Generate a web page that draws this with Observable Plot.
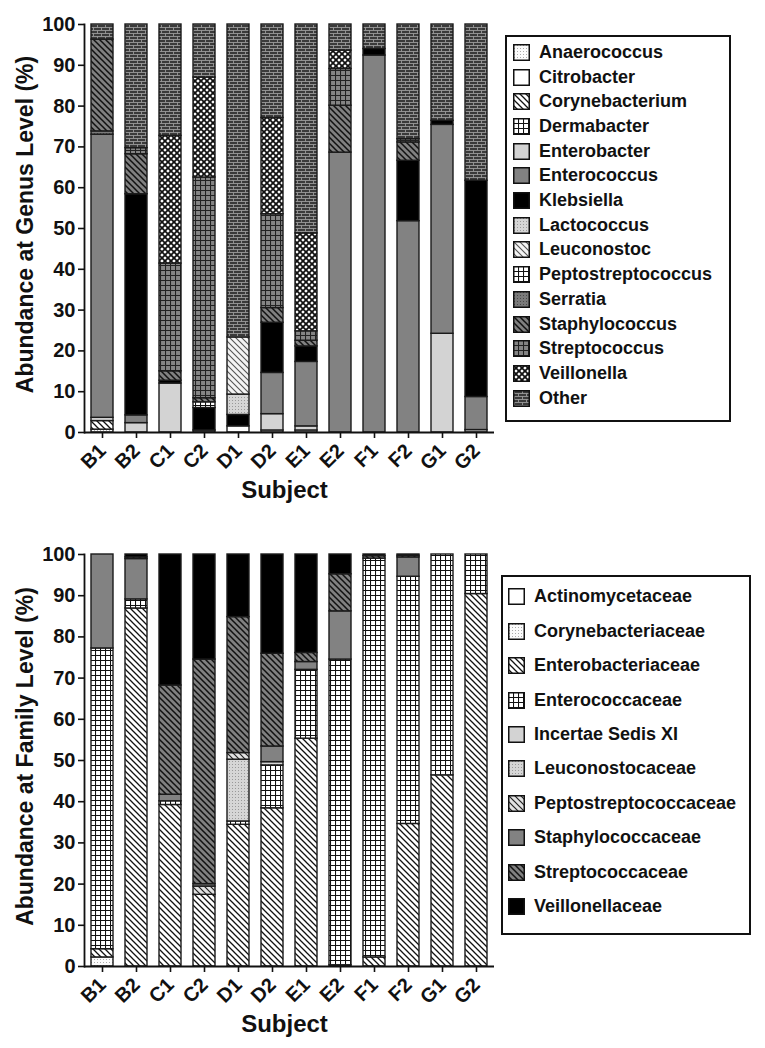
<!DOCTYPE html>
<html><head><meta charset="utf-8">
<script src="https://cdn.jsdelivr.net/npm/d3@7"></script>
<script src="https://cdn.jsdelivr.net/npm/@observablehq/plot@0.6"></script>
<style>
body{margin:0;background:#fff;font-family:"Liberation Sans",Arial,sans-serif;}
#wrap{position:relative;width:765px;height:1048px;overflow:hidden;background:#fff;}
.panel{position:absolute;left:0;}
.legend{position:absolute;border:2px solid #111;background:#fff;box-sizing:border-box;}
.item{position:absolute;height:20px;display:flex;align-items:center;font-weight:bold;font-size:18px;color:#111;white-space:nowrap;}
.item svg{margin-right:9px;flex:none;}
</style></head><body>
<svg width="0" height="0" style="position:absolute;left:0;top:0"><defs>
<pattern id="p-dots" width="3" height="3" patternUnits="userSpaceOnUse"><rect width="3" height="3" fill="#fbfbfb"/><rect x="1" y="1" width="1" height="1" fill="#aaa"/></pattern>
<pattern id="p-ltdots" width="3" height="3" patternUnits="userSpaceOnUse"><rect width="3" height="3" fill="#d6d6d6"/><rect x="1" y="1" width="1" height="1" fill="#999"/></pattern>
<pattern id="p-dkdots" width="3" height="3" patternUnits="userSpaceOnUse"><rect width="3" height="3" fill="#7a7a7a"/><rect x="1" y="1" width="1" height="1" fill="#4a4a4a"/></pattern>
<pattern id="p-diagW" width="6" height="6" patternUnits="userSpaceOnUse"><rect width="6" height="6" fill="#fff"/><path d="M-1,-1L7,7M-1,5L1,7M5,-1L7,1" stroke="#111" stroke-width="1.3"/></pattern>
<pattern id="p-diagL" width="6" height="6" patternUnits="userSpaceOnUse"><rect width="6" height="6" fill="#f4f4f4"/><path d="M-1,-1L7,7M-1,5L1,7M5,-1L7,1" stroke="#555" stroke-width="1.1"/></pattern>
<pattern id="p-diagP" width="6" height="6" patternUnits="userSpaceOnUse"><rect width="6" height="6" fill="#e2e2e2"/><path d="M-1,-1L7,7M-1,5L1,7M5,-1L7,1" stroke="#222" stroke-width="1.2"/></pattern>
<pattern id="p-diagG" width="6" height="6" patternUnits="userSpaceOnUse"><rect width="6" height="6" fill="#808080"/><path d="M-1,-1L7,7M-1,5L1,7M5,-1L7,1" stroke="#111" stroke-width="1.5"/></pattern>
<pattern id="p-gridW" width="5" height="5" patternUnits="userSpaceOnUse"><rect width="5" height="5" fill="#fff"/><path d="M0,0.5H5M0.5,0V5" stroke="#111" stroke-width="1.1"/></pattern>
<pattern id="p-gridG" width="5" height="5" patternUnits="userSpaceOnUse"><rect width="5" height="5" fill="#858585"/><path d="M0,0.5H5M0.5,0V5" stroke="#222" stroke-width="1.1"/></pattern>
<pattern id="p-cross" width="6" height="6" patternUnits="userSpaceOnUse"><rect width="6" height="6" fill="#fff"/><path d="M0,0L6,6M6,0L0,6" stroke="#111" stroke-width="1.8"/></pattern>
<pattern id="p-brick" width="8" height="6" patternUnits="userSpaceOnUse"><rect width="8" height="6" fill="#3a3a3a"/><path d="M0,0.5H8M0,3.5H8M1.5,0.5V3.5M5.5,3.5V6" stroke="#9a9a9a" stroke-width="0.9"/></pattern>
</defs></svg>
<div id="wrap"></div>
<script>
const subjects = ["B1","B2","C1","C2","D1","D2","E1","E2","F1","F2","G1","G2"];

// Genus level (subject order B1..G2)
const genusTaxa = ["Anaerococcus","Citrobacter","Corynebacterium","Dermabacter","Enterobacter","Enterococcus","Klebsiella","Lactococcus","Leuconostoc","Peptostreptococcus","Serratia","Staphylococcus","Streptococcus","Veillonella","Other"];
const genusFills = ["url(#p-dots)","#ffffff","url(#p-diagW)","url(#p-gridW)","#d3d3d3","#828282","#000000","url(#p-ltdots)","url(#p-diagL)","url(#p-gridW)","url(#p-dkdots)","url(#p-diagG)","url(#p-gridG)","url(#p-cross)","url(#p-brick)"];
const gAnaerococcus       = [0.7,0,0,0,0,0,0,0,0,0,0,0];
const gCitrobacter        = [0,0,0,0,1.5,0.5,0.5,0,0,0,0,0];
const gCorynebacterium    = [2.1,0,0,0,0,0,0,0,0,0,0,0];
const gDermabacter        = [0,0,0,0,0,0,0,0,0,0,0,0];
const gEnterobacter       = [0.8,2.3,12.0,0,0,4.0,1.0,0,0,0,24.2,0.6];
const gEnterococcus       = [69.4,1.9,0,0.5,0,10.1,15.8,68.6,92.4,51.8,51.2,8.1];
const gKlebsiella         = [0,54.2,0.7,5.5,2.8,12.3,3.8,0,1.6,14.8,1.0,53.0];
const gLactococcus        = [0,0,0,0,5.0,0,0,0,0,0,0,0];
const gLeuconostoc        = [0,0,0,0,14.0,0,0,0,0,0,0,0];
const gPeptostreptococcus = [0,0,0,1.4,0,0,0,0,0,0,0,0];
const gSerratia           = [0.8,0,0,0,0,0,0,0,0,0,0,0];
const gStaphylococcus     = [22.5,9.8,2.3,1.0,0,3.6,1.4,11.5,0,4.5,0,0];
const gStreptococcus      = [0,1.5,26.4,54.1,0,23.0,2.3,9.0,0,0.8,0,0];
const gVeillonella        = [0,0,31.3,24.5,0,23.6,24.0,4.5,0,0,0,0];
const gOther              = [3.7,30.3,27.3,13.0,76.7,22.9,51.2,6.4,6.0,28.1,23.6,38.3];
const genusSeries = [gAnaerococcus,gCitrobacter,gCorynebacterium,gDermabacter,gEnterobacter,gEnterococcus,gKlebsiella,gLactococcus,gLeuconostoc,gPeptostreptococcus,gSerratia,gStaphylococcus,gStreptococcus,gVeillonella,gOther];

// Family level
const familyTaxa = ["Actinomycetaceae","Corynebacteriaceae","Enterobacteriaceae","Enterococcaceae","Incertae Sedis XI","Leuconostocaceae","Peptostreptococcaceae","Staphylococcaceae","Streptococcaceae","Veillonellaceae"];
const familyFills = ["#ffffff","url(#p-dots)","url(#p-diagW)","url(#p-gridW)","#d3d3d3","url(#p-ltdots)","url(#p-diagP)","#828282","url(#p-diagG)","#000000"];
const fActinomycetaceae      = [0,0,0,0,0,0,0,0,0,0,0,0];
const fCorynebacteriaceae    = [2.2,0,0,0,0,0,0,0,0,0,0,0];
const fEnterobacteriaceae    = [2.0,86.9,39.2,17.4,34.4,38.4,55.3,0.3,2.2,34.6,46.4,90.4];
const fEnterococcaceae       = [73.0,2.2,0.9,0,0.8,10.4,16.7,74.2,96.8,60.0,53.6,9.6];
const fIncertaeSedisXI       = [0,0,0,0,0,0,0,0,0,0,0,0];
const fLeuconostocaceae      = [0,0,0,0,15.0,0.8,0,0,0,0,0,0];
const fPeptostreptococcaceae = [0,0,0,2.0,1.6,0,0,0,0,0,0,0];
const fStaphylococcaceae     = [22.8,9.8,1.6,0.6,0,3.8,1.9,11.7,0,4.7,0,0];
const fStreptococcaceae      = [0,0.4,26.5,54.5,33.0,22.5,2.2,9.0,0.6,0.4,0,0];
const fVeillonellaceae       = [0,0.7,31.8,25.5,15.2,24.1,23.9,4.8,0.4,0.3,0,0];
const familySeries = [fActinomycetaceae,fCorynebacteriaceae,fEnterobacteriaceae,fEnterococcaceae,fIncertaeSedisXI,fLeuconostocaceae,fPeptostreptococcaceae,fStaphylococcaceae,fStreptococcaceae,fVeillonellaceae];

const yTicks = [0,10,20,30,40,50,60,70,80,90,100];

function panel(taxa, fills, series, ylabel, height, mt, mb) {
  const rows = [];
  subjects.forEach((s, i) => taxa.forEach((t, j) => {
    const v = series[j][i];
    if (v > 0) rows.push({subject: s, taxon: t, value: v});
  }));
  return Plot.plot({
    width: 765, height,
    marginLeft: 84, marginRight: 271, marginTop: mt, marginBottom: mb,
    style: {fontFamily: "'Liberation Sans', Arial, sans-serif", fontSize: "20px", fontWeight: "bold", color: "#111", background: "transparent", overflow: "visible"},
    x: {domain: subjects, paddingInner: 0.36, paddingOuter: 0.17, label: null},
    y: {domain: [0, 100], label: null},
    color: {type: "ordinal", domain: taxa, range: fills},
    marks: [
      Plot.barY(rows, {x: "subject", y: "value", fill: "taxon", stroke: "#1a1a1a", strokeWidth: 1.4}),
      Plot.axisX({tickRotate: -45, tickSize: 6, tickPadding: 9, label: null, strokeWidth: 1.6}),
      Plot.axisY({ticks: yTicks, tickSize: 6, tickPadding: 3, label: null, strokeWidth: 1.6}),
      Plot.ruleY([0], {stroke: "#111", strokeWidth: 1.8}),
      Plot.frame({anchor: "left", stroke: "#111", strokeWidth: 1.8}),
      Plot.text([ylabel], {frameAnchor: "left", textAnchor: "middle", dx: -59, dy: -4, rotate: -90, fontSize: 23, text: d => d}),
      Plot.text(["Subject"], {frameAnchor: "bottom", textAnchor: "middle", dy: 65, dx: -5, fontSize: 24, text: d => d})
    ]
  });
}

function legend(taxa, fills, left, top, w, h, firstTop, step, itemLeft) {
  const box = document.createElement("div");
  box.className = "legend";
  Object.assign(box.style, {left: left + "px", top: top + "px", width: w + "px", height: h + "px"});
  taxa.forEach((t, i) => {
    const it = document.createElement("div");
    it.className = "item";
    it.style.left = itemLeft + "px";
    it.style.top = (firstTop + i * step) + "px";
    it.innerHTML = `<svg width="17" height="17"><rect x="0.75" y="0.75" width="15.5" height="15.5" fill="${fills[i]}" stroke="#111" stroke-width="1.5"/></svg><span>${t}</span>`;
    box.appendChild(it);
  });
  return box;
}

const wrap = document.getElementById("wrap");
const top1 = panel(genusTaxa, genusFills, genusSeries, "Abundance at Genus Level (%)", 520, 24, 88);
top1.classList.add("panel"); top1.style.top = "0px";
wrap.appendChild(top1);
const bot = panel(familyTaxa, familyFills, familySeries, "Abundance at Family Level (%)", 528, 34, 82);
bot.classList.add("panel"); bot.style.top = "520px";
wrap.appendChild(bot);
wrap.appendChild(legend(genusTaxa, genusFills, 505, 35, 226, 387, 5.3, 24.7, 6));
wrap.appendChild(legend(familyTaxa, familyFills, 501, 575, 250, 360, 9.7, 34.44, 5));
</script>
</body></html>
